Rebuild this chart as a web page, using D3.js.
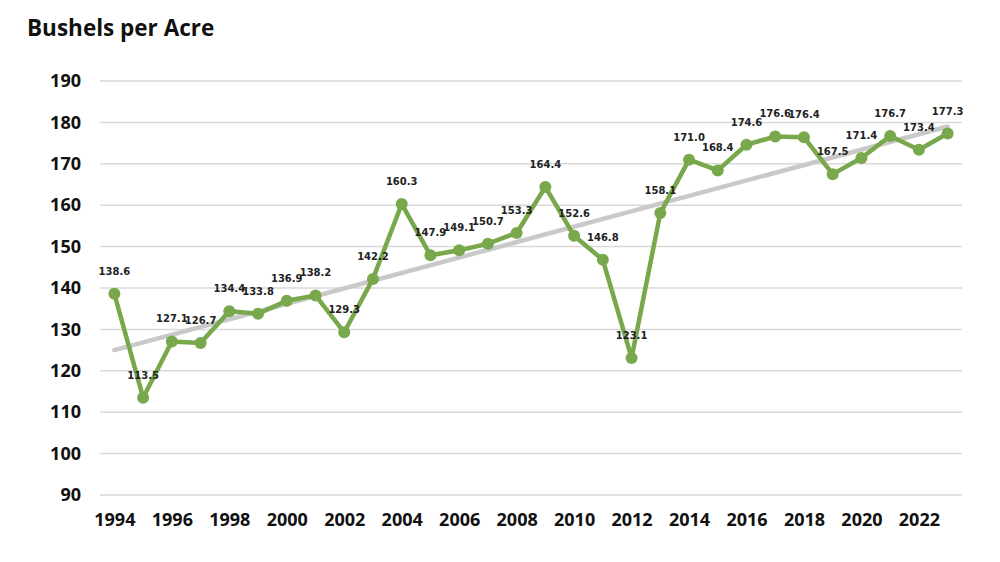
<!DOCTYPE html>
<html lang="en">
<head>
<meta charset="utf-8">
<title>Bushels per Acre</title>
<script src="https://cdnjs.cloudflare.com/ajax/libs/d3/7.8.5/d3.min.js"></script>
<style>
	body { margin: 0; background: #fff; }
	.grid line { stroke: #d9d9d9; stroke-width: 1.5px; }
	.axis text { font-family: "Open Sans", sans-serif; font-weight: bold; font-size: 18px; fill: #111; }
	.lbl { font-family: "DejaVu Sans", sans-serif; font-weight: bold; font-size: 10px; fill: #222; }
</style>
</head>
<body>
<div id="chart"></div>
<script>
var years = [1994,1995,1996,1997,1998,1999,2000,2001,2002,2003,2004,2005,2006,2007,2008,
	2009,2010,2011,2012,2013,2014,2015,2016,2017,2018,2019,2020,2021,2022,2023];
var yields = [138.6,113.5,127.1,126.7,134.4,133.8,136.9,138.2,129.3,142.2,160.3,147.9,149.1,150.7,153.3,
	164.4,152.6,146.8,123.1,158.1,171.0,168.4,174.6,176.6,176.4,167.5,171.4,176.7,173.4,177.3];
var yTicks = [90,100,110,120,130,140,150,160,170,180,190];
var xTickYears = [1994,1996,1998,2000,2002,2004,2006,2008,2010,2012,2014,2016,2018,2020,2022];

var W = 1000, H = 562;
var pLeft = 100, pRight = 962, pTop = 81, pBottom = 495;

var svg = d3.select("#chart").append("svg").attr("width", W).attr("height", H);

var x = d3.scalePoint().domain(years).range([pLeft, pRight]).padding(0.5);
var y = d3.scaleLinear().domain([90, 190]).range([pBottom, pTop]);

// title
svg.append("text")
	.attr("x", 27).attr("y", 36)
	.attr("font-family", "Open Sans, sans-serif")
	.attr("font-weight", "bold")
	.attr("font-size", 22.5)
	.attr("fill", "#111")
	.text("Bushels per Acre");

// gridlines
svg.append("g").attr("class", "grid")
	.selectAll("line").data(yTicks).enter().append("line")
	.attr("x1", pLeft).attr("x2", pRight)
	.attr("y1", function(d){ return y(d); })
	.attr("y2", function(d){ return y(d); });

// y axis
var yAxis = svg.append("g").attr("class", "axis")
	.attr("transform", "translate(" + (pLeft - 19) + ",0)")
	.call(d3.axisLeft(y).tickValues(yTicks).tickSize(0).tickPadding(0));
yAxis.select(".domain").remove();

// x axis
var xAxis = svg.append("g").attr("class", "axis")
	.attr("transform", "translate(0," + (pBottom + 14) + ")")
	.call(d3.axisBottom(x).tickValues(xTickYears).tickSize(0).tickPadding(4));
xAxis.select(".domain").remove();

// linear trend (least squares, like the spreadsheet trendline)
var n = years.length;
var mx = d3.mean(d3.range(n)), my = d3.mean(yields);
var sxy = 0, sxx = 0;
for (var i = 0; i < n; i++) {
	sxy += (i - mx) * (yields[i] - my);
	sxx += (i - mx) * (i - mx);
}
var slope = sxy / sxx, icpt = my - slope * mx;
svg.append("line")
	.attr("x1", x(years[0])).attr("y1", y(icpt))
	.attr("x2", x(years[n-1])).attr("y2", y(icpt + slope * (n - 1)))
	.attr("stroke", "#c9c9c9").attr("stroke-width", 4.5).attr("stroke-linecap", "round");

var pts = years.map(function(d, i){ return [d, yields[i]]; });

svg.append("path")
	.datum(pts)
	.attr("fill", "none")
	.attr("stroke", "#78a84b")
	.attr("stroke-width", 4.5)
	.attr("stroke-linejoin", "round")
	.attr("d", d3.line().x(function(d){ return x(d[0]); }).y(function(d){ return y(d[1]); }));

svg.selectAll(".dot").data(pts).enter().append("circle")
	.attr("class", "dot")
	.attr("cx", function(d){ return x(d[0]); })
	.attr("cy", function(d){ return y(d[1]); })
	.attr("r", 6)
	.attr("fill", "#78a84b");

svg.selectAll(".lbl").data(pts).enter().append("text")
	.attr("class", "lbl")
	.attr("text-anchor", "middle")
	.attr("x", function(d){ return x(d[0]); })
	.attr("y", function(d){ return y(d[1]) - 19; })
	.text(function(d){ return d[1].toFixed(1); });
</script>
</body>
</html>
